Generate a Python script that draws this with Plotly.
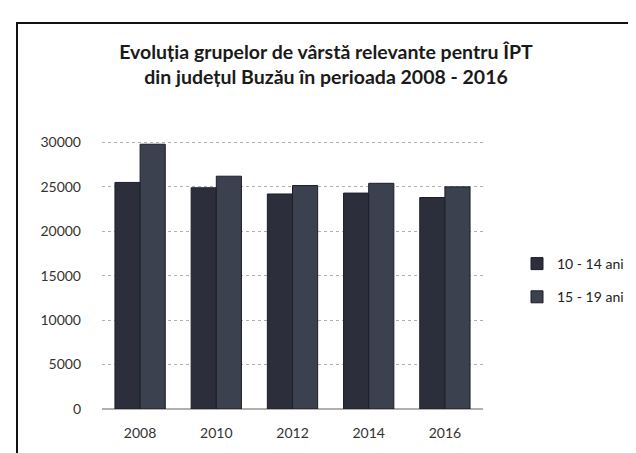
import plotly.graph_objects as go

years = ["2008", "2010", "2012", "2014", "2016"]
series_names = ["10 - 14 ani", "15 - 19 ani"]
ani_10_14 = [25500, 24900, 24200, 24300, 23800]
ani_15_19 = [29800, 26200, 25150, 25400, 25000]
y_ticks = [0, 5000, 10000, 15000, 20000, 25000, 30000]
y_tick_labels = ["0", "5000", "10000", "15000", "20000", "25000", "30000"]

W, H = 636, 453
L, R, T, B = 94, 161, 130, 52
pw, ph = W - L - R, H - T - B

def px_x(x):
    return (x - L) / pw

def px_y(y):
    return (H - B - y) / ph

fig = go.Figure()
fig.add_trace(go.Bar(x=years, y=ani_10_14, name=series_names[0], legendgroup="a",
                     marker=dict(color="#2c2f3b", line=dict(color="#1c1e26", width=1))))
fig.add_trace(go.Bar(x=years, y=ani_15_19, name=series_names[1], legendgroup="b",
                     marker=dict(color="#3c4150", line=dict(color="#1c1e26", width=1))))

font = "Lato, 'Open Sans', sans-serif"
fig.update_layout(
    width=W, height=H,
    margin=dict(l=L, r=R, t=T, b=B),
    paper_bgcolor="white", plot_bgcolor="white",
    barmode="group", bargap=0.34, bargroupgap=0.0,
    title=dict(text="<b>Evoluția grupelor de vârstă relevante pentru ÎPT<br>din județul Buzău în perioada 2008 - 2016</b>",
               x=0.5, xanchor="center", y=1 - 51 / H, yanchor="middle",
               font=dict(family=font, size=19.5, color="#1a1a1a")),
    font=dict(family=font, color="#333333"),
    showlegend=True,
    legend=dict(x=px_x(509), y=px_y(240), xanchor="left", yanchor="top",
                itemwidth=30,
                font=dict(family=font, size=14, color="#222222"),
                tracegroupgap=12, bgcolor="rgba(0,0,0,0)"),
    xaxis=dict(showgrid=False, showline=False, ticks="", tickfont=dict(size=14, color="#333333"),
               ticklabelstandoff=14),
    yaxis=dict(range=[0, 30500], tickvals=y_ticks, ticktext=y_tick_labels, showgrid=True,
               gridcolor="#b0b0b0", griddash="dot", gridwidth=1, zeroline=True,
               zerolinecolor="#b0b0b0", showline=False, ticks="",
               tickfont=dict(size=14, color="#333333"), ticklabelstandoff=20),
    shapes=[dict(type="rect", xref="paper", yref="paper",
                 x0=px_x(9), x1=px_x(634), y0=px_y(458), y1=px_y(15),
                 line=dict(color="#111111", width=2), fillcolor="rgba(0,0,0,0)", layer="below")],
)

fig.write_html("out.html")
